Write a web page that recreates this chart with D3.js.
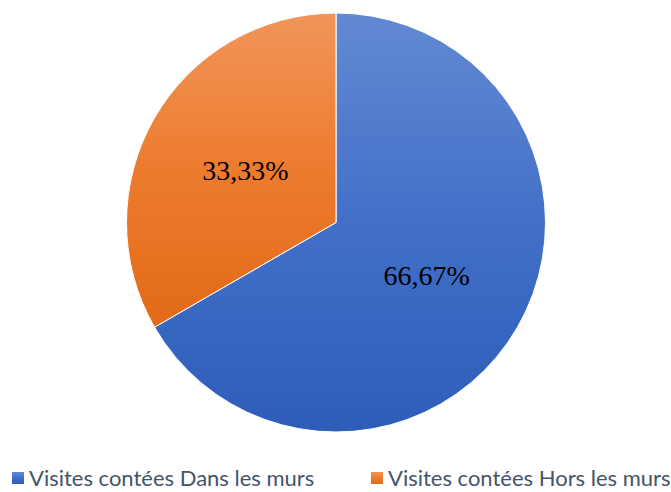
<!DOCTYPE html>
<html>
<head>
<meta charset="utf-8">
<script src="https://cdn.jsdelivr.net/npm/d3@7"></script>
<style>
  body { margin: 0; background: #fff; }
  svg { display: block; }
</style>
</head>
<body>
<div id="chart"></div>
<script>
const categories = ['Visites contées Dans les murs', 'Visites contées Hors les murs'];
const values = [66.67, 33.33];
const labels = ['66,67%', '33,33%'];
const gradients = [['#6389d3', '#4270c8', '#2d5db9'], ['#f1955a', '#ed7b2e', '#e26a18']];

const width = 671;
const height = 492;
const cx = 336;
const cy = 222.5;
const radius = 209.5;

const svg = d3.select('#chart')
  .append('svg')
  .attr('width', width)
  .attr('height', height);

// vertical gradient, stretched over each shape's own box
const defs = svg.append('defs');
gradients.forEach((c, i) => {
  const grad = defs.append('linearGradient')
    .attr('id', `grad-${i}`)
    .attr('x1', 0).attr('y1', 0)
    .attr('x2', 0).attr('y2', 1);
  grad.selectAll('stop')
    .data(c).enter()
    .append('stop')
    .attr('offset', (d, j) => `${j * 50}%`)
    .attr('stop-color', d => d);
});

const pie = d3.pie().sort(null).value(d => d);
const arc = d3.arc().innerRadius(0).outerRadius(radius);
const arcs = pie(values);

const g = svg.append('g').attr('transform', `translate(${cx},${cy})`);

g.selectAll('.slice')
  .data(arcs).enter()
  .append('path')
  .attr('class', 'slice')
  .attr('fill', (d, i) => `url(#grad-${i})`)
  .attr('stroke', '#fff')
  .attr('stroke-width', 1)
  .attr('d', arc);

g.selectAll('.label')
  .data(arcs).enter()
  .append('text')
  .attr('class', 'label')
  .attr('transform', d => `translate(${arc.centroid(d)})`)
  .attr('text-anchor', 'middle')
  .attr('dy', '0.35em')
  .style('font-family', '"Liberation Serif", "Times New Roman", serif')
  .style('font-size', '28px')
  .style('fill', '#000')
  .text((d, i) => labels[i]);

const legendX = [12, 371];
const legend = svg.selectAll('.legend')
  .data(categories).enter()
  .append('g')
  .attr('class', 'legend')
  .attr('transform', (d, i) => `translate(${legendX[i]},472)`);

legend.append('rect')
  .attr('width', 12)
  .attr('height', 12)
  .attr('fill', (d, i) => `url(#grad-${i})`);

legend.append('text')
  .attr('x', 17)
  .attr('y', 6)
  .attr('dy', '0.36em')
  .style('font-family', 'Lato, "Open Sans", sans-serif')
  .style('font-size', '22px')
  .style('fill', '#44546a')
  .text(d => d);
</script>
</body>
</html>
